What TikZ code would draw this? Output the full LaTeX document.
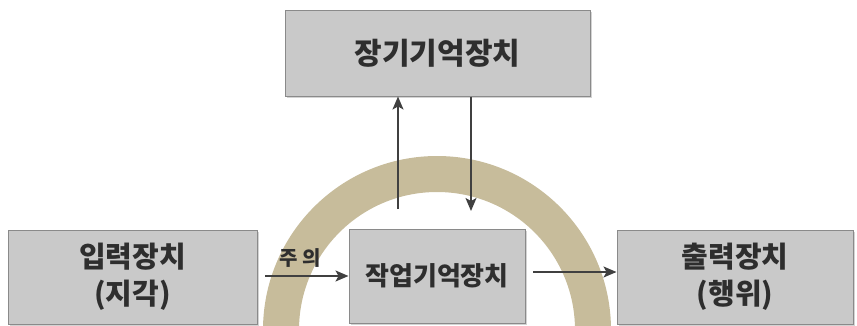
\documentclass[tikz,border=0pt]{standalone}
\usepackage{fontspec}
\setmainfont{Noto Sans CJK KR}
\usetikzlibrary{arrows.meta,shadows}
\definecolor{boxgray}{HTML}{C9C9C9}
\definecolor{edgegray}{HTML}{8A8A8A}
\definecolor{arcbrown}{HTML}{C7BC9B}
\definecolor{txt}{HTML}{2E2E2E}
\definecolor{arr}{HTML}{404040}
\tikzset{
  unitbox/.style={draw=edgegray, line width=1pt, fill=boxgray, inner sep=0pt,
    drop shadow={shadow xshift=1.5pt, shadow yshift=-1.5pt, opacity=0.35},
    text=txt, font=\bfseries, align=center},
  conn/.style={draw=arr, line width=1.5pt, -{Stealth[length=13pt,width=11pt,inset=3pt]}},
}
\begin{document}
\begin{tikzpicture}[x=1pt,y=-1pt]
\useasboundingbox (0,0) rectangle (857,325);
% arch
\fill[arcbrown] (263,330) arc[start angle=180,end angle=360,radius=174]
  -- ++(-36,0) arc[start angle=360,end angle=180,radius=138] -- cycle;
% boxes
\node[unitbox, minimum width=305pt, minimum height=86pt, font=\bfseries\fontsize{30}{32}\selectfont] (ltm) at (437.5,53) {장기기억장치};
\node[unitbox, minimum width=249pt, minimum height=94pt, font=\bfseries\fontsize{29}{37}\selectfont] (inp) at (132.5,277) {입력장치\\(지각)};
\node[unitbox, minimum width=176pt, minimum height=94pt, font=\bfseries\fontsize{26}{28}\selectfont] (wm) at (437,276) {작업기억장치};
\node[unitbox, minimum width=236pt, minimum height=94pt, font=\bfseries\fontsize{29}{37}\selectfont] (out) at (735,277) {출력장치\\(행위)};
% connectors
\coordinate (upfrom) at (398,209);
\coordinate (downto) at (471,211);
\draw[conn] (upfrom) -- (upfrom |- ltm.south);
\draw[conn] (downto |- ltm.south) -- (downto);
\coordinate (attin) at (265,276);
\draw[conn] (attin) -- (wm.west) node[pos=0.42, above=4pt, text=txt, font=\bfseries\fontsize{20}{22}\selectfont] (att) {주 의};
\coordinate (outa) at (533,272);
\draw[conn] (outa) -- (out.west |- outa);
\end{tikzpicture}
\end{document}
